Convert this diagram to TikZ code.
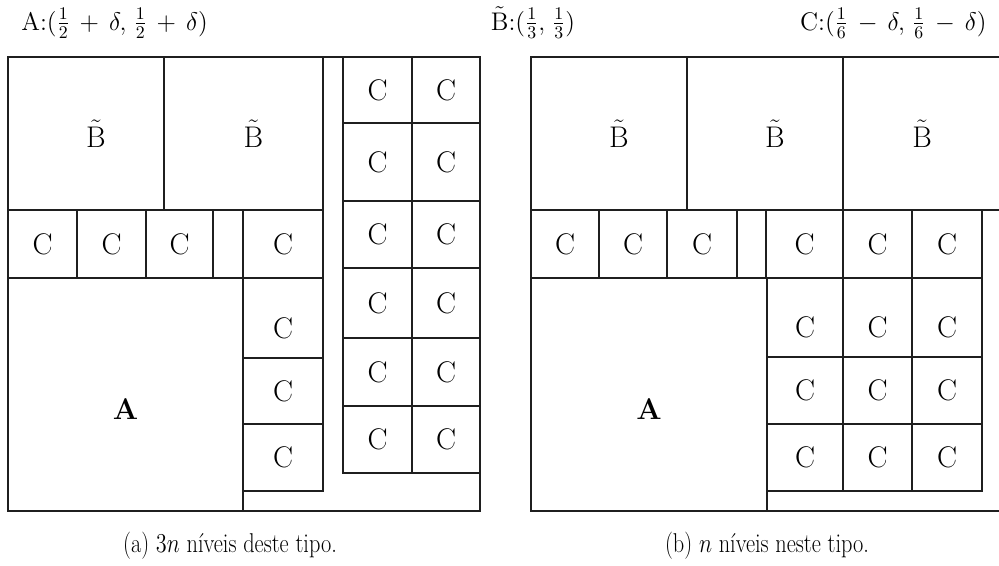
\RequirePackage{fix-cm}
\documentclass[tikz,border=0pt]{standalone}
\usepackage{fontspec}
\usepackage{tikz}
\usetikzlibrary{positioning}

\newcommand{\Bt}{$\tilde{\mathrm{B}}$}
\newcommand{\wide}{\medmuskip=7mu\thinmuskip=5mu}

\begin{document}
\begin{tikzpicture}[x=0.02cm, y=-0.02cm,
    wall/.style={draw=black!88, line width=1.1pt},
    lbl/.style={font=\fontsize{17}{20}\selectfont, inner sep=0pt},
    lowlbl/.style={lbl, yshift=-0.2cm},
    blbl/.style={lbl, xshift=0.2cm},
    head/.style={font=\fontsize{14.5}{17}\selectfont, inner sep=0pt},
    capt/.style={font=\fontsize{15.5}{18}\selectfont, inner sep=0pt, xscale=0.82, transform shape}
]
\useasboundingbox (0,0) rectangle (999,565);
\clip (0,0) rectangle (999,565);

% === Headings ===
\node[head, anchor=base west] (headA) at (21,30) {A:$\wide(\frac{1}{2}+\delta,\frac{1}{2}+\delta)$};
\node[head, anchor=base] (headB) at (533,30) {\Bt:$\wide(\frac{1}{3},\frac{1}{3})$};
\node[head, anchor=base east] (headC) at (987,30) {C:$\wide(\frac{1}{6}-\delta,\frac{1}{6}-\delta)$};

% === (a) left packing ===
\draw[wall] (8,57) rectangle (480,511);

% B boxes
\draw[wall] (8,57) rectangle (164,210) node[midway, blbl] (aB1) {\Bt};
\draw[wall] (164,57) rectangle (323,210) node[midway, blbl] (aB2) {\Bt};

% row of C under the B boxes
\draw[wall] (8,210) rectangle (77,278) node[midway, lbl] (aR1) {C};
\draw[wall] (77,210) rectangle (146,278) node[midway, lbl] (aR2) {C};
\draw[wall] (146,210) rectangle (213,278) node[midway, lbl] (aR3) {C};
\draw[wall] (243,210) rectangle (323,278) node[midway, lbl] (aR4) {C};

% A box and its column of C
\draw[wall] (8,278) rectangle (243,511) node[midway, lbl, yshift=-0.3cm] (aA) {\textbf{A}};
\draw[wall] (243,278) rectangle (323,358) node[midway, lowlbl] (aK1) {C};
\draw[wall] (243,358) rectangle (323,424) node[midway, lbl] (aK2) {C};
\draw[wall] (243,424) rectangle (323,491) node[midway, lbl] (aK3) {C};

% right column, two C per row
\draw[wall] (343,57) rectangle (412,123) node[midway, lbl] (aG11) {C};
\draw[wall] (412,57) rectangle (480,123) node[midway, lbl] (aG12) {C};
\draw[wall] (343,123) rectangle (412,201) node[midway, lbl] (aG21) {C};
\draw[wall] (412,123) rectangle (480,201) node[midway, lbl] (aG22) {C};
\draw[wall] (343,201) rectangle (412,268) node[midway, lbl] (aG31) {C};
\draw[wall] (412,201) rectangle (480,268) node[midway, lbl] (aG32) {C};
\draw[wall] (343,268) rectangle (412,338) node[midway, lbl] (aG41) {C};
\draw[wall] (412,268) rectangle (480,338) node[midway, lbl] (aG42) {C};
\draw[wall] (343,338) rectangle (412,406) node[midway, lbl] (aG51) {C};
\draw[wall] (412,338) rectangle (480,406) node[midway, lbl] (aG52) {C};
\draw[wall] (343,406) rectangle (412,473) node[midway, lbl] (aG61) {C};
\draw[wall] (412,406) rectangle (480,473) node[midway, lbl] (aG62) {C};

% === (b) right packing ===
\draw[wall] (531,57) rectangle (1010,511);

% B boxes
\draw[wall] (531,57) rectangle (687,210) node[midway, blbl] (bB1) {\Bt};
\draw[wall] (687,57) rectangle (843,210) node[midway, blbl] (bB2) {\Bt};
\draw[wall] (843,57) rectangle (1001,210) node[midway, lbl] (bB3) {\Bt};

% row of C under the B boxes
\draw[wall] (531,210) rectangle (599,278) node[midway, lbl] (bR1) {C};
\draw[wall] (599,210) rectangle (667,278) node[midway, lbl] (bR2) {C};
\draw[wall] (667,210) rectangle (737,278) node[midway, lbl] (bR3) {C};
\draw[wall] (766,210) rectangle (843,278) node[midway, lbl] (bR4) {C};
\draw[wall] (843,210) rectangle (912,278) node[midway, lbl] (bR5) {C};
\draw[wall] (912,210) rectangle (982,278) node[midway, lbl] (bR6) {C};

% A box and 3x3 block of C
\draw[wall] (531,278) rectangle (767,511) node[midway, lbl, yshift=-0.3cm] (bA) {\textbf{A}};
\draw[wall] (767,278) rectangle (843,357) node[midway, lowlbl] (bG11) {C};
\draw[wall] (843,278) rectangle (912,357) node[midway, lowlbl] (bG12) {C};
\draw[wall] (912,278) rectangle (982,357) node[midway, lowlbl] (bG13) {C};
\draw[wall] (767,357) rectangle (843,424) node[midway, lbl] (bG21) {C};
\draw[wall] (843,357) rectangle (912,424) node[midway, lbl] (bG22) {C};
\draw[wall] (912,357) rectangle (982,424) node[midway, lbl] (bG23) {C};
\draw[wall] (767,424) rectangle (843,491) node[midway, lbl] (bG31) {C};
\draw[wall] (843,424) rectangle (912,491) node[midway, lbl] (bG32) {C};
\draw[wall] (912,424) rectangle (982,491) node[midway, lbl] (bG33) {C};

% === Captions ===
\node[capt, anchor=base] (captA) at (230,552) {(a) $3n$ níveis deste tipo.};
\node[capt, anchor=base] (captB) at (767,552) {(b) $n$ níveis neste tipo.};

\end{tikzpicture}
\end{document}
